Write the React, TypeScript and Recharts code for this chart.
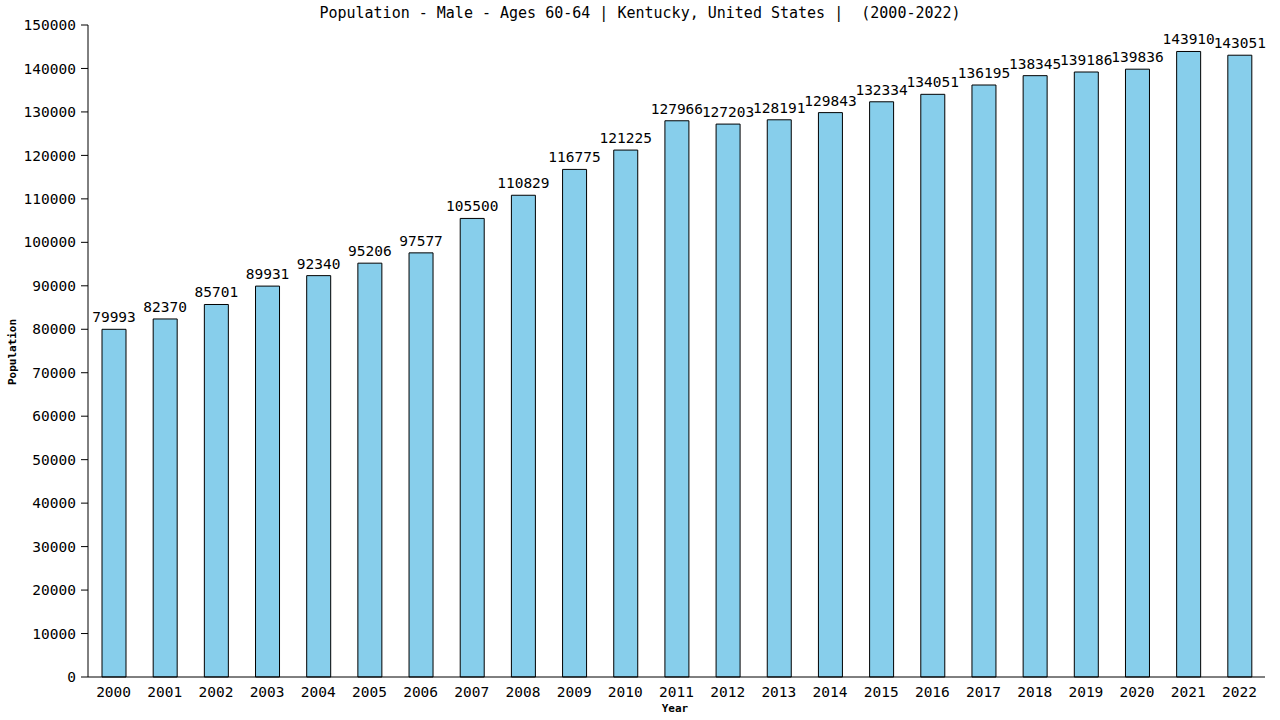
import { BarChart, Bar, XAxis, YAxis, LabelList } from 'recharts';

const years = ['2000', '2001', '2002', '2003', '2004', '2005', '2006', '2007', '2008', '2009', '2010', '2011', '2012', '2013', '2014', '2015', '2016', '2017', '2018', '2019', '2020', '2021', '2022'];
const population = [79993, 82370, 85701, 89931, 92340, 95206, 97577, 105500, 110829, 116775, 121225, 127966, 127203, 128191, 129843, 132334, 134051, 136195, 138345, 139186, 139836, 143910, 143051];
const yTicks = [0, 10000, 20000, 30000, 40000, 50000, 60000, 70000, 80000, 90000, 100000, 110000, 120000, 130000, 140000, 150000];

const title = 'Population - Male - Ages 60-64 | Kentucky, United States |  (2000-2022)';

if (typeof document !== 'undefined') document.body.style.margin = '0';

const font = '"DejaVu Sans Mono", monospace';

export default function App() {
  const data = years.map((year, i) => ({ year, value: population[i] }));

  return (
    <div style={{ position: 'relative', width: 1280, height: 720, background: '#fff', fontFamily: font }}>
      <BarChart
        width={1280}
        height={720}
        data={data}
        margin={{ top: 25, right: 15, bottom: 0, left: 0 }}
      >
        <XAxis
          dataKey="year"
          height={43}
          tickLine={false}
          axisLine={{ stroke: '#000' }}
          tick={{ fill: '#000', fontSize: 14.5, fontFamily: font }}
          tickMargin={4}
        />
        <YAxis
          width={88}
          domain={[0, 150000]}
          ticks={yTicks}
          interval={0}
          tickSize={7}
          tickMargin={5}
          tickLine={{ stroke: '#000' }}
          axisLine={{ stroke: '#000' }}
          tick={{ fill: '#000', fontSize: 14.5, fontFamily: font }}
        />
        <YAxis
          yAxisId="right"
          orientation="right"
          width={0}
          tick={false}
          tickLine={false}
          axisLine={{ stroke: '#000' }}
          domain={[0, 150000]}
        />
        <Bar dataKey="value" fill="#87ceeb" stroke="#000" strokeWidth={1} barSize={24} isAnimationActive={false}>
          <LabelList dataKey="value" position="top" offset={7} fill="#000" fontSize={14.5} fontFamily={font} />
        </Bar>
        <text
          x={640}
          y={18}
          textAnchor="middle"
          fontSize={15}
          fontFamily={font}
          fill="#000"
          style={{ whiteSpace: 'pre' }}
        >
          {title}
        </text>
        <text x={675} y={712} textAnchor="middle" fontSize={11} fontWeight="bold" fontFamily={font} fill="#000">
          Year
        </text>
        <text
          x={16}
          y={352}
          textAnchor="middle"
          fontSize={11}
          fontWeight="bold"
          fontFamily={font}
          fill="#000"
          transform="rotate(-90 16 352)"
        >
          Population
        </text>
      </BarChart>
    </div>
  );
}
